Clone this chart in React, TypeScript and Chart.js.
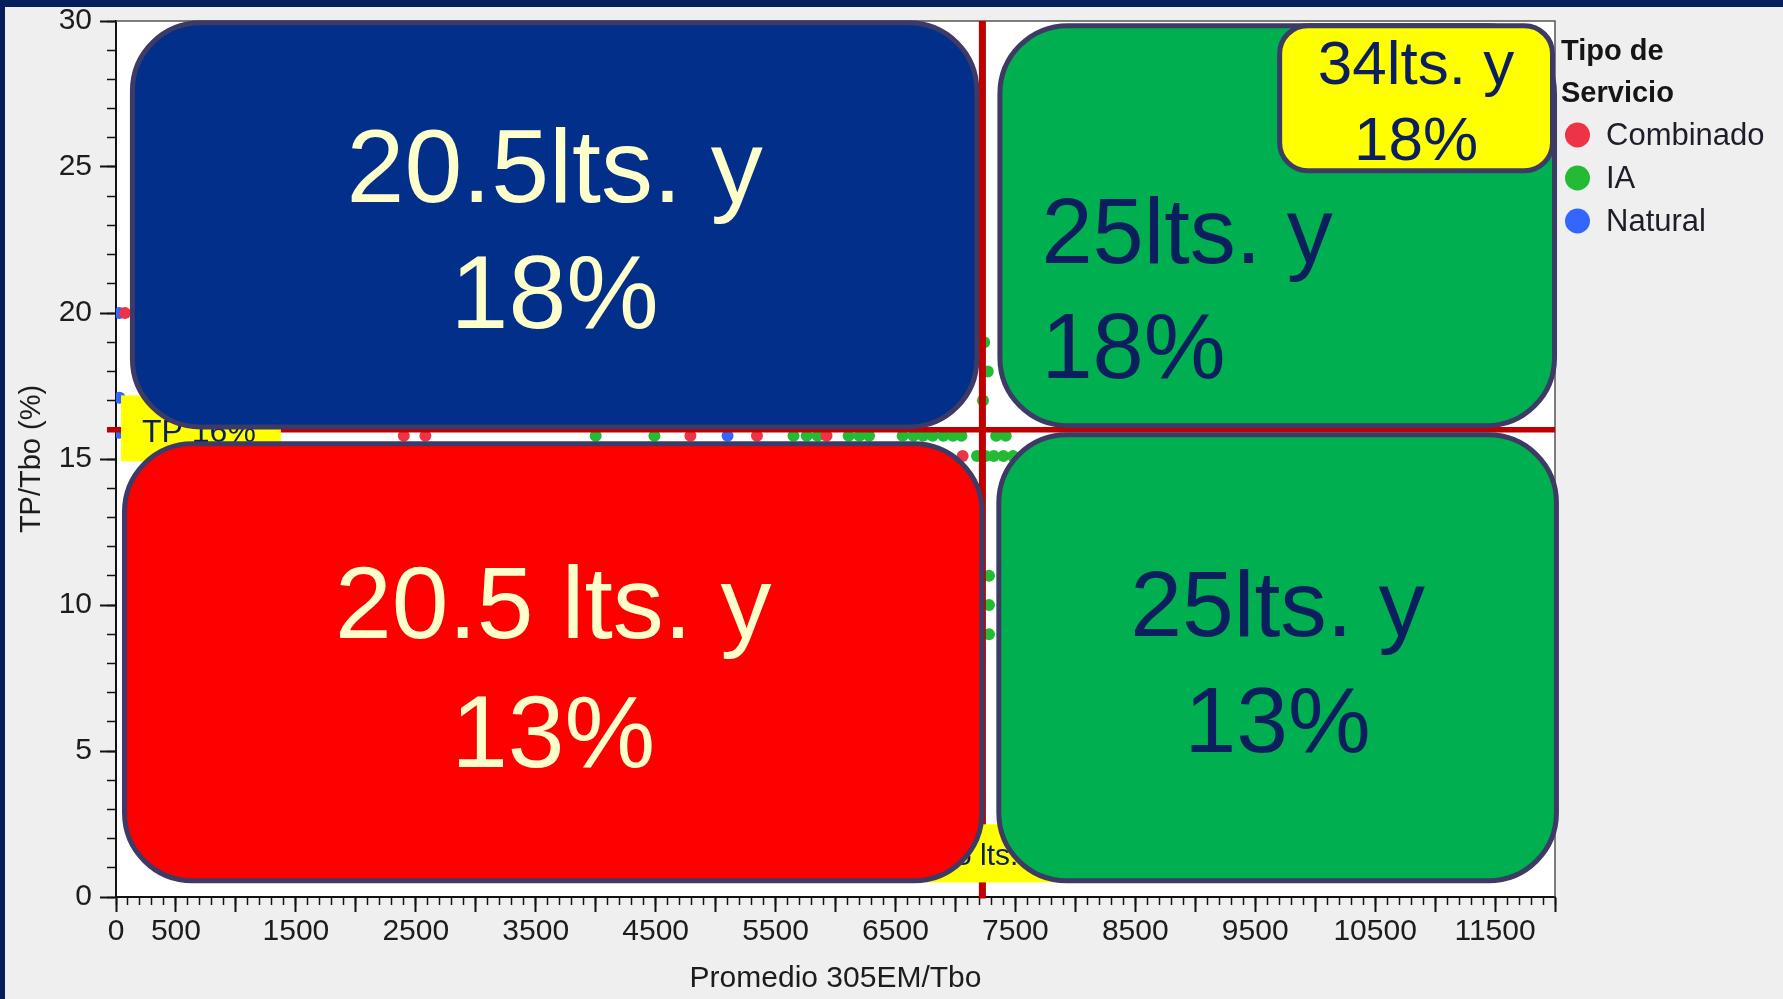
import React, { useEffect, useRef } from "react";
import { Chart, registerables } from "chart.js";

Chart.register(...registerables);

// ---------------- data ----------------
const SERIES_NAMES = ["Combinado", "IA", "Natural"];
const SERIES_COLORS = ["#ee3344", "#22bb33", "#3366ff"];

const combinadoX = [75, 2400, 2580, 4790, 5345, 5925, 7060];
const combinadoY = [20, 15.8, 15.8, 15.8, 15.8, 15.8, 15.1];

const iaX = [
  4000, 4490, 5650, 5760, 5850, 6110, 6200, 6280, 6560, 6650, 6730, 6810, 6900, 6980, 7050,
  7340, 7420, 7240, 7270, 7230, 7180, 7250, 7320, 7400, 7480, 7560, 7280, 7280, 7280,
];
const iaY = [
  15.8, 15.8, 15.8, 15.8, 15.8, 15.8, 15.8, 15.8, 15.8, 15.8, 15.8, 15.8, 15.8, 15.8, 15.8,
  15.8, 15.8, 19, 18, 17, 15.1, 15.1, 15.1, 15.1, 15.1, 15.1, 11, 10, 9,
];

const naturalX = [30, 30, 30, 5100];
const naturalY = [20, 17.1, 15.9, 15.8];

const X_MAX = 12000;
const Y_MAX = 30;
const X_MAJOR_STEP = 500;
const X_MINOR_STEP = 100;
const Y_MAJOR_STEP = 5;
const Y_MINOR_STEP = 1;
const X_TICK_LABELS = [0, 500, 1500, 2500, 3500, 4500, 5500, 6500, 7500, 8500, 9500, 10500, 11500];
const Y_TICK_LABELS = [0, 5, 10, 15, 20, 25, 30];

const TP_TARGET = 16; // TP/Tbo reference line (%)
const LITERS_TARGET = 7225; // Promedio 305EM/Tbo reference line
const TP_LABEL = "TP 16%";
const LITERS_LABEL = "7225 lts.";

const QUADRANT_TEXTS = [
  ["20.5lts. y", "18%"],
  ["20.5 lts. y", "13%"],
  ["25lts. y", "18%"],
  ["25lts. y", "13%"],
  ["34lts. y", "18%"],
];

// ---------------- styles ----------------
const FONT = "'Liberation Sans', Arial, sans-serif";
const NAVY_TEXT = "#0b1f5e";
const CREAM = "#ffffcc";
const OUTLINE = "#3d3b66";
const REF_RED = "#c00000";
const AXIS_TEXT = "#1c1c1c";

// overlay shapes: extents in data units (stroke centre), text offsets in px
const OVERLAYS = [
  { x0: 137, x1: 7179, y0: 29.94, y1: 16.1, fill: "#022f89", color: CREAM, size: 104, align: "center", dx: 0, base: [179.5, 305.5], radius: 68, text: 0 },
  { x0: 71, x1: 7221, y0: 15.52, y1: 0.555, fill: "#ff0000", color: CREAM, size: 102, align: "center", dx: 0, base: [194.5, 323.5], radius: 68, text: 1 },
  { x0: 7371, x1: 11996, y0: 29.84, y1: 16.14, fill: "#00b050", color: NAVY_TEXT, size: 92, align: "left", dx: 41.5, base: [237.5, 352.5], radius: 68, text: 2 },
  { x0: 7362, x1: 12012, y0: 15.83, y1: 0.555, fill: "#00b050", color: NAVY_TEXT, size: 93, align: "center", dx: 0, base: [201.5, 317.5], radius: 68, text: 3 },
  { x0: 9704, x1: 11979, y0: 29.84, y1: 24.87, fill: "#ffff00", color: NAVY_TEXT, size: 62, align: "center", dx: 0, base: [58.5, 134.5], radius: 28, text: 4 },
];

const YELLOW_TAGS = [
  { x0: 42, x1: 1375, y0: 17.18, y1: 14.92, text: TP_LABEL, tx: 142, baseOff: 47, size: 32 },
  { x0: 6530, x1: 7950, y0: 2.49, y1: 0.5, text: LITERS_LABEL, tx: 905, baseOff: 41, size: 30 },
];

const range = (step: number, max: number) => {
  const out: number[] = [];
  for (let v = 0; v <= max + 1e-9; v += step) out.push(Math.round(v * 1000) / 1000);
  return out;
};

const toPoints = (xs: number[], ys: number[]) => xs.map((x, i) => ({ x, y: ys[i] }));

function roundRectPath(ctx: CanvasRenderingContext2D, x: number, y: number, w: number, h: number, r: number) {
  const rr = Math.min(r, w / 2, h / 2);
  ctx.beginPath();
  ctx.moveTo(x + rr, y);
  ctx.lineTo(x + w - rr, y);
  ctx.arcTo(x + w, y, x + w, y + rr, rr);
  ctx.lineTo(x + w, y + h - rr);
  ctx.arcTo(x + w, y + h, x + w - rr, y + h, rr);
  ctx.lineTo(x + rr, y + h);
  ctx.arcTo(x, y + h, x, y + h - rr, rr);
  ctx.lineTo(x, y + rr);
  ctx.arcTo(x, y, x + rr, y, rr);
  ctx.closePath();
}

const backgroundPlugin = {
  id: "slideBackground",
  beforeDraw(chart: any) {
    const { ctx, width, height, chartArea } = chart;
    ctx.save();
    ctx.fillStyle = "#041f5c";
    ctx.fillRect(0, 0, width, height);
    ctx.fillStyle = "#efefef";
    ctx.fillRect(5, 7, width - 5, height - 7);
    ctx.fillStyle = "#ffffff";
    ctx.fillRect(chartArea.left, chartArea.top, chartArea.right - chartArea.left, chartArea.bottom - chartArea.top);
    ctx.restore();
  },
  beforeDatasetsDraw(chart: any) {
    const { ctx, chartArea } = chart;
    ctx.save();
    ctx.strokeStyle = "#555555";
    ctx.lineWidth = 1.5;
    ctx.beginPath();
    ctx.moveTo(chartArea.left, chartArea.top);
    ctx.lineTo(chartArea.right, chartArea.top);
    ctx.lineTo(chartArea.right, chartArea.bottom);
    ctx.stroke();
    ctx.restore();
  },
};

const overlayPlugin = {
  id: "quadrantOverlays",
  afterDatasetsDraw(chart: any) {
    const { ctx } = chart;
    const xs = chart.scales.x;
    const ys = chart.scales.y;
    ctx.save();
    // yellow reference tags
    for (const t of YELLOW_TAGS) {
      const l = xs.getPixelForValue(t.x0);
      const r = xs.getPixelForValue(t.x1);
      const tp = ys.getPixelForValue(t.y0);
      const bt = ys.getPixelForValue(t.y1);
      ctx.fillStyle = "#ffff00";
      ctx.fillRect(l, tp, r - l, bt - tp);
      ctx.fillStyle = NAVY_TEXT;
      ctx.font = `${t.size}px ${FONT}`;
      ctx.textAlign = "left";
      ctx.textBaseline = "alphabetic";
      ctx.fillText(t.text, t.tx, tp + t.baseOff);
    }
    // quadrant boxes
    for (const o of OVERLAYS) {
      const l = xs.getPixelForValue(o.x0);
      const r = xs.getPixelForValue(o.x1);
      const tp = ys.getPixelForValue(o.y0);
      const bt = ys.getPixelForValue(o.y1);
      roundRectPath(ctx, l, tp, r - l, bt - tp, o.radius);
      ctx.fillStyle = o.fill;
      ctx.fill();
      ctx.lineWidth = 5;
      ctx.strokeStyle = OUTLINE;
      ctx.stroke();
      ctx.fillStyle = o.color;
      ctx.font = `${o.size}px ${FONT}`;
      ctx.textBaseline = "alphabetic";
      const lines = QUADRANT_TEXTS[o.text];
      lines.forEach((line, i) => {
        if (o.align === "center") {
          ctx.textAlign = "center";
          ctx.fillText(line, (l + r) / 2, tp + o.base[i]);
        } else {
          ctx.textAlign = "left";
          ctx.fillText(line, l + o.dx, tp + o.base[i]);
        }
      });
    }
    ctx.restore();
  },
};

const legendPlugin = {
  id: "sideLegend",
  afterDraw(chart: any) {
    const { ctx } = chart;
    ctx.save();
    ctx.fillStyle = "#151515";
    ctx.font = `bold 29px ${FONT}`;
    ctx.textAlign = "left";
    ctx.textBaseline = "alphabetic";
    ctx.fillText("Tipo de", 1561, 60);
    ctx.fillText("Servicio", 1561, 102);
    const items = chart.data.datasets.filter((d: any) => d.isSeries);
    items.forEach((d: any, i: number) => {
      const cy = 135 + i * 43;
      ctx.beginPath();
      ctx.arc(1577.5, cy, 12.5, 0, Math.PI * 2);
      ctx.fillStyle = d.backgroundColor;
      ctx.fill();
      ctx.fillStyle = "#1e1e2a";
      ctx.font = `31px ${FONT}`;
      ctx.textBaseline = "middle";
      ctx.fillText(d.label, 1606, cy + 1);
    });
    ctx.restore();
  },
};

export default function App() {
  const canvasRef = useRef<HTMLCanvasElement>(null);

  useEffect(() => {
    const canvas = canvasRef.current;
    if (!canvas) return;
    const seriesData = [toPoints(combinadoX, combinadoY), toPoints(iaX, iaY), toPoints(naturalX, naturalY)];

    const chart = new Chart(canvas, {
      type: "scatter",
      data: {
        datasets: [
          {
            type: "line",
            label: "TP ref",
            data: [
              { x: -75, y: TP_TARGET },
              { x: X_MAX, y: TP_TARGET },
            ],
            borderColor: REF_RED,
            borderWidth: 5.5,
            pointRadius: 0,
            clip: false,
            order: 0,
          } as any,
          {
            type: "line",
            label: "Lts ref",
            data: [
              { x: LITERS_TARGET, y: Y_MAX },
              { x: LITERS_TARGET, y: -0.05 },
            ],
            borderColor: REF_RED,
            borderWidth: 7,
            pointRadius: 0,
            clip: false,
            order: 0,
          } as any,
          ...SERIES_NAMES.map(
            (name, i) =>
              ({
                label: name,
                isSeries: true,
                data: seriesData[i],
                backgroundColor: SERIES_COLORS[i],
                borderWidth: 0,
                pointRadius: 6,
                order: 1,
              }) as any
          ),
        ],
      },
      options: {
        responsive: false,
        animation: false,
        devicePixelRatio: 1,
        events: [],
        layout: { padding: { top: 21, right: 228, bottom: 0, left: 0 } },
        plugins: { legend: { display: false }, tooltip: { enabled: false } },
        scales: {
          x: {
            type: "linear",
            position: "bottom",
            weight: 1,
            min: 0,
            max: X_MAX,
            afterBuildTicks: (s: any) => {
              s.ticks = range(X_MAJOR_STEP, X_MAX).map((v) => ({ value: v }));
            },
            afterFit: (s: any) => {
              s.height = 102;
              s.paddingLeft = 0;
              s.paddingRight = 0;
            },
            ticks: {
              autoSkip: false,
              maxRotation: 0,
              padding: 2,
              color: AXIS_TEXT,
              font: { family: FONT, size: 30 },
              callback: (v: any) => (X_TICK_LABELS.includes(Number(v)) ? String(v) : ""),
            },
            grid: { display: true, drawOnChartArea: false, drawTicks: true, tickLength: 15, tickColor: "#111", tickWidth: 2 },
            border: { display: true, color: "#111", width: 2 },
            title: {
              display: true,
              text: "Promedio 305EM/Tbo",
              color: AXIS_TEXT,
              font: { family: FONT, size: 30 },
              padding: { top: 0, bottom: 2 },
            },
          },
          xMinor: {
            type: "linear",
            position: "bottom",
            weight: 0,
            min: 0,
            max: X_MAX,
            afterBuildTicks: (s: any) => {
              s.ticks = range(X_MINOR_STEP, X_MAX).map((v) => ({ value: v }));
            },
            afterFit: (s: any) => {
              s.height = 0;
              s.paddingLeft = 0;
              s.paddingRight = 0;
            },
            ticks: { display: false, autoSkip: false },
            grid: { display: true, drawOnChartArea: false, drawTicks: true, tickLength: 8, tickColor: "#111", tickWidth: 1.5 },
            border: { display: false },
          },
          y: {
            type: "linear",
            position: "left",
            weight: 1,
            min: 0,
            max: Y_MAX,
            afterBuildTicks: (s: any) => {
              s.ticks = range(Y_MAJOR_STEP, Y_MAX).map((v) => ({ value: v }));
            },
            afterFit: (s: any) => {
              s.width = 116;
              s.paddingTop = 0;
              s.paddingBottom = 0;
            },
            ticks: {
              autoSkip: false,
              padding: 8,
              color: AXIS_TEXT,
              font: { family: FONT, size: 30 },
              callback: (v: any) => (Y_TICK_LABELS.includes(Number(v)) ? String(v) : ""),
            },
            grid: { display: true, drawOnChartArea: false, drawTicks: true, tickLength: 16, tickColor: "#111", tickWidth: 2 },
            border: { display: true, color: "#111", width: 2 },
            title: {
              display: true,
              text: "TP/Tbo (%)",
              color: AXIS_TEXT,
              font: { family: FONT, size: 29 },
              padding: { top: 15, bottom: 0 },
            },
          },
          yMinor: {
            type: "linear",
            position: "left",
            weight: 0,
            min: 0,
            max: Y_MAX,
            afterBuildTicks: (s: any) => {
              s.ticks = range(Y_MINOR_STEP, Y_MAX).map((v) => ({ value: v }));
            },
            afterFit: (s: any) => {
              s.width = 0;
              s.paddingTop = 0;
              s.paddingBottom = 0;
            },
            ticks: { display: false, autoSkip: false },
            grid: { display: true, drawOnChartArea: false, drawTicks: true, tickLength: 9, tickColor: "#111", tickWidth: 1.5 },
            border: { display: false },
          },
        },
      } as any,
      plugins: [backgroundPlugin, overlayPlugin, legendPlugin],
    });

    return () => chart.destroy();
  }, []);

  return (
    <div style={{ position: "fixed", left: 0, top: 0, width: 1783, height: 999, overflow: "hidden" }}>
      <canvas ref={canvasRef} width={1783} height={999} style={{ display: "block", width: 1783, height: 999 }} />
    </div>
  );
}
